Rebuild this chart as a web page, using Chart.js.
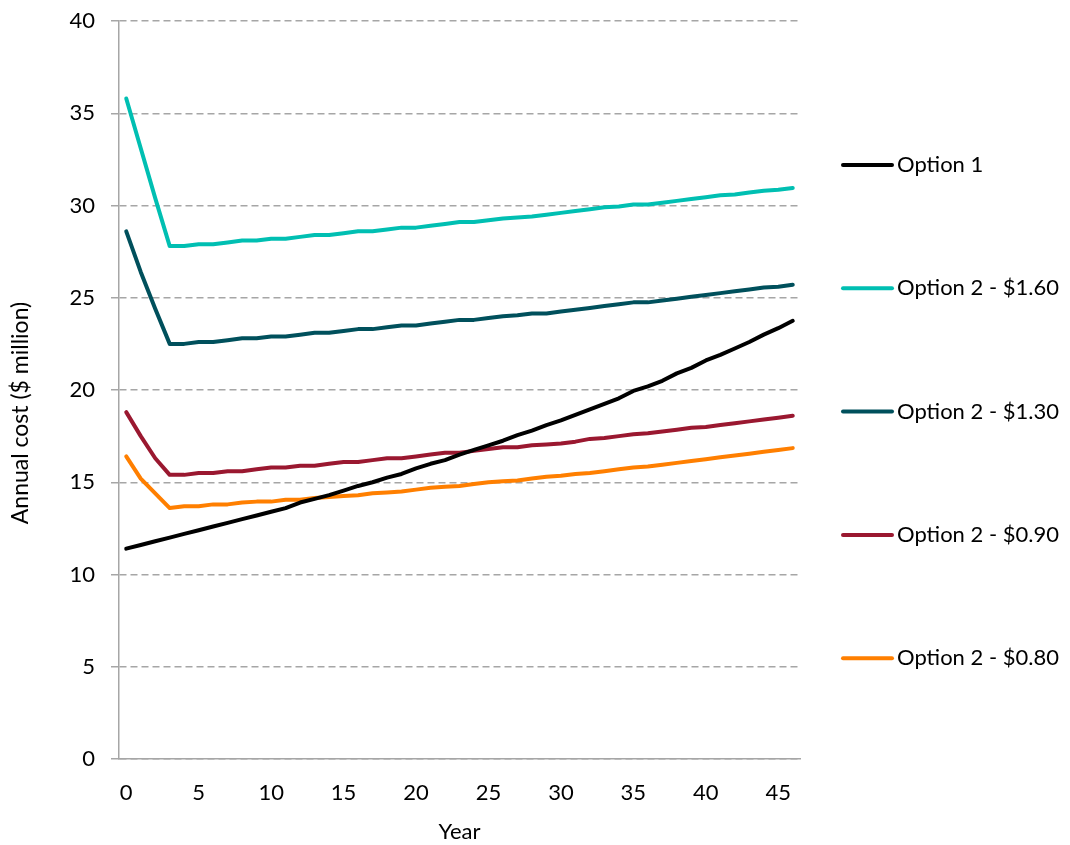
<!DOCTYPE html>
<html>
<head>
<meta charset="utf-8">
<script src="https://cdn.jsdelivr.net/npm/chart.js@4.4.1/dist/chart.umd.min.js"></script>
<style>
  html, body { margin: 0; padding: 0; background: #ffffff; }
  #wrap { width: 1070px; height: 845px; position: relative; }
</style>
</head>
<body>
<div id="wrap"><canvas id="cost-chart"></canvas></div>
<script>
(function () {
  'use strict';

  // -- Data -----------------------------------------------------------------
  const YEARS = [];
  for (let y = 0; y <= 46; y++) YEARS.push(y);

  const SERIES_LABELS = ['Option 1', 'Option 2 - $1.60', 'Option 2 - $1.30', 'Option 2 - $0.90', 'Option 2 - $0.80'];
  const SERIES_COLORS = ['#000000', '#00BFB2', '#00505C', '#9A1830', '#FF7F00'];

  const OPTION_1 = [
    11.4, 11.6, 11.8, 12.0, 12.2, 12.4, 12.6, 12.8, 13.0, 13.2,
    13.4, 13.6, 13.9, 14.1, 14.3, 14.55, 14.8, 15.0, 15.25, 15.45,
    15.75, 16.0, 16.2, 16.5, 16.75, 17.0, 17.25, 17.55, 17.8, 18.1,
    18.35, 18.65, 18.95, 19.25, 19.55, 19.95, 20.2, 20.5, 20.9, 21.2,
    21.6, 21.9, 22.25, 22.6, 23.0, 23.35, 23.75
  ];
  const OPTION_2_160 = [
    35.8, 33.1, 30.4, 27.8, 27.8, 27.9, 27.9, 28.0, 28.1, 28.1,
    28.2, 28.2, 28.3, 28.4, 28.4, 28.5, 28.6, 28.6, 28.7, 28.8,
    28.8, 28.9, 29.0, 29.1, 29.1, 29.2, 29.3, 29.35, 29.4, 29.5,
    29.6, 29.7, 29.8, 29.9, 29.95, 30.05, 30.05, 30.15, 30.25, 30.35,
    30.45, 30.55, 30.6, 30.7, 30.8, 30.85, 30.95
  ];
  const OPTION_2_130 = [
    28.6, 26.4, 24.4, 22.5, 22.5, 22.6, 22.6, 22.7, 22.8, 22.8,
    22.9, 22.9, 23.0, 23.1, 23.1, 23.2, 23.3, 23.3, 23.4, 23.5,
    23.5, 23.6, 23.7, 23.8, 23.8, 23.9, 24.0, 24.05, 24.15, 24.15,
    24.25, 24.35, 24.45, 24.55, 24.65, 24.75, 24.75, 24.85, 24.95, 25.05,
    25.15, 25.25, 25.35, 25.45, 25.55, 25.6, 25.7
  ];
  const OPTION_2_090 = [
    18.8, 17.5, 16.3, 15.4, 15.4, 15.5, 15.5, 15.6, 15.6, 15.7,
    15.8, 15.8, 15.9, 15.9, 16.0, 16.1, 16.1, 16.2, 16.3, 16.3,
    16.4, 16.5, 16.6, 16.6, 16.7, 16.8, 16.9, 16.9, 17.0, 17.05,
    17.1, 17.2, 17.35, 17.4, 17.5, 17.6, 17.65, 17.75, 17.85, 17.95,
    18.0, 18.1, 18.2, 18.3, 18.4, 18.5, 18.6
  ];
  const OPTION_2_080 = [
    16.4, 15.2, 14.4, 13.6, 13.7, 13.7, 13.8, 13.8, 13.9, 13.95,
    13.95, 14.05, 14.05, 14.15, 14.2, 14.25, 14.3, 14.4, 14.45, 14.5,
    14.6, 14.7, 14.75, 14.8, 14.9, 15.0, 15.05, 15.1, 15.2, 15.3,
    15.35, 15.45, 15.5, 15.6, 15.7, 15.8, 15.85, 15.95, 16.05, 16.15,
    16.25, 16.35, 16.45, 16.55, 16.65, 16.75, 16.85
  ];
  const SERIES_VALUES = [OPTION_1, OPTION_2_160, OPTION_2_130, OPTION_2_090, OPTION_2_080];

  const Y_MIN = 0, Y_MAX = 40, Y_STEP = 5;
  const X_LABEL_EVERY = 5;

  const FONT = 'Lato, "Open Sans", sans-serif';
  const FONT_SIZE = 22;
  const TEXT = '#000000';
  const GRID = '#A6A6A6';

  // -- Custom legend + y title (Excel-style placement) ----------------------
  const decorPlugin = {
    id: 'decor',
    afterDraw: function (chart) {
      const ctx = chart.ctx;
      const area = chart.chartArea;
      ctx.save();
      ctx.font = FONT_SIZE + 'px ' + FONT;
      ctx.fillStyle = TEXT;
      ctx.textBaseline = 'middle';
      chart.data.datasets.forEach(function (ds, i) {
        const y = 165 + i * 123.3;
        const x0 = area.right + 43;
        ctx.strokeStyle = ds.borderColor;
        ctx.lineWidth = 4;
        ctx.lineCap = 'round';
        ctx.beginPath();
        ctx.moveTo(x0, y);
        ctx.lineTo(x0 + 49, y);
        ctx.stroke();
        ctx.textAlign = 'left';
        ctx.fillText(ds.label, x0 + 54, y);
      });
      // y-axis title
      ctx.font = '23px ' + FONT;
      ctx.translate(21, 413);
      ctx.rotate(-Math.PI / 2);
      ctx.textAlign = 'center';
      ctx.fillText('Annual cost ($ million)', 0, 0);
      ctx.restore();
    }
  };

  const datasets = SERIES_VALUES.map(function (vals, i) {
    return {
      label: SERIES_LABELS[i],
      data: vals,
      borderColor: SERIES_COLORS[i],
      backgroundColor: SERIES_COLORS[i],
      borderWidth: 4,
      borderCapStyle: 'round',
      borderJoinStyle: 'round',
      pointRadius: 0,
      tension: 0,
      fill: false
    };
  });

  new Chart(document.getElementById('cost-chart'), {
    type: 'line',
    data: { labels: YEARS, datasets: datasets },
    plugins: [decorPlugin],
    options: {
      responsive: true,
      maintainAspectRatio: false,
      animation: false,
      layout: { padding: { top: 21, right: 270, left: 0, bottom: 0 } },
      plugins: { legend: { display: false }, tooltip: { enabled: false } },
      scales: {
        x: {
          type: 'category',
          offset: true,
          grid: { display: false, drawTicks: false },
          border: { display: true, color: GRID, width: 1.5 },
          ticks: {
            color: TEXT,
            font: { family: FONT, size: FONT_SIZE },
            padding: 21,
            autoSkip: false,
            maxRotation: 0,
            callback: function (v, idx) {
              return YEARS[idx] % X_LABEL_EVERY === 0 ? String(YEARS[idx]) : '';
            }
          },
          title: {
            display: true,
            text: 'Year',
            color: TEXT,
            font: { family: FONT, size: FONT_SIZE },
            padding: { top: 2, bottom: 0 }
          },
          afterFit: function (scale) { scale.height = 86; scale.paddingLeft = 0; scale.paddingRight = 0; }
        },
        y: {
          min: Y_MIN,
          max: Y_MAX,
          ticks: {
            stepSize: Y_STEP,
            color: TEXT,
            font: { family: FONT, size: FONT_SIZE },
            padding: 16
          },
          grid: {
            color: GRID,
            lineWidth: 1.5,
            tickLength: 8,
            tickColor: GRID,
            tickWidth: 1.5
          },
          border: { display: true, color: GRID, width: 1.5, dash: [7, 4] },
          afterFit: function (scale) { scale.width = 119; scale.paddingTop = 0; scale.paddingBottom = 0; }
        }
      }
    }
  });
})();
</script>
</body>
</html>
